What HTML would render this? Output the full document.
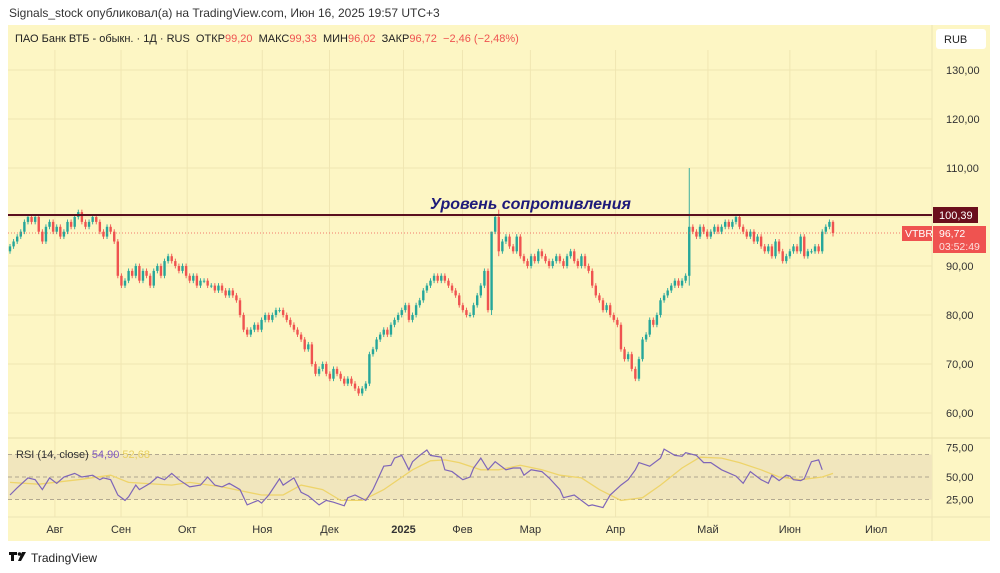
<!DOCTYPE html>
<html><head><meta charset="utf-8">
<style>
html,body{margin:0;padding:0;background:#fff;width:1000px;height:573px;overflow:hidden;font-family:"Liberation Sans","Noto Sans CJK JP",sans-serif}
svg{display:block}
</style></head>
<body>
<svg id="chart" width="1000" height="573" xmlns="http://www.w3.org/2000/svg" font-family="Liberation Sans, DejaVu Sans, sans-serif">
  <text x="9" y="17" font-size="12" fill="#333">Signals_stock опубликовал(а) на TradingView.com, Июн 16, 2025 19:57 UTC+3</text>
  <rect x="8" y="25" width="982" height="516" fill="#fdf6c4"/>
  <line x1="932" y1="25" x2="932" y2="541" stroke="#ece4b4"/>
  <g id="grid"></g>
  <g id="rsiPane"></g>
  <g id="candles"></g>
  <line x1="8" y1="215" x2="932" y2="215" stroke="#5a0f1e" stroke-width="2"/>
  <text x="430" y="209" font-size="16" font-style="italic" font-weight="bold" fill="#1e1a7a">Уровень сопротивления</text>
  <line x1="8" y1="233" x2="932" y2="233" stroke="#ef5350" stroke-width="0.8" stroke-dasharray="1,2"/>
  <g id="axes"></g>
  <text x="15" y="42" font-size="11" fill="#222">ПАО Банк ВТБ - обыкн. · 1Д · RUS&#160; ОТКР<tspan fill="#ef5350">99,20</tspan>&#160; МАКС<tspan fill="#ef5350">99,33</tspan>&#160; МИН<tspan fill="#ef5350">96,02</tspan>&#160; ЗАКР<tspan fill="#ef5350">96,72&#160; −2,46 (−2,48%)</tspan></text>
  <rect x="936" y="29" width="50" height="20" rx="3" fill="#fff"/>
  <text x="944" y="43" font-size="11" fill="#222">RUB</text>
  <rect x="933" y="207" width="45" height="16" fill="#6b0f1c"/>
  <text x="939" y="219" font-size="11" fill="#fff">100,39</text>
  <rect x="902" y="226" width="30" height="15" fill="#ef5350"/>
  <text x="905" y="237" font-size="10.5" fill="#fff">VTBR</text>
  <rect x="933" y="226" width="53" height="27" fill="#ef5350"/>
  <text x="939" y="237" font-size="10.5" fill="#fff">96,72</text>
  <text x="939" y="250" font-size="10.5" fill="#fde0de">03:52:49</text>
  <text x="16" y="458" font-size="11" fill="#333">RSI (14, close) <tspan fill="#7e57c2">54,90</tspan> <tspan fill="#e8cf60">52,68</tspan></text>
  <g>
    <rect x="9" y="552" width="8" height="3" fill="#111"/><rect x="11" y="552" width="3" height="9" fill="#111"/><circle cx="19.5" cy="554" r="1.8" fill="#111"/><polygon points="22,552 26,552 21,561 18,561" fill="#111"/>
    <text x="31" y="562" font-size="12" fill="#222">TradingView</text>
  </g>
</svg>
<script>
const closes=[94,95,96,97,99,100, 99,100,97,95, 98,99,97,98,96,97,99,98,100,101,99,98,99,100,99, 97,96,98,97,95, 88,86,
87,89,88,90,87,89,88,86,89,90,88,91,92, 91,90,89,90,88,87,88,86,87, 87,86,86,85,86,85,84,85,84,83, 80,77,76,
77,78,77,79,80,79,80,81,81, 80,79,78,77,76,75,73,74, 70,68,69,70,68,67,69, 68,67,66,67,66,65,64,65, 66,72,73,
75,76,77,76,78,79,80, 81,82,79,80,82,83, 85,86,87,88,87,88, 87,86,85,84,82,81,80,80, 82,84,86,89,81,97,
100,93,95,96,94,93,96, 92,91,90,92,91,93,92,91,90,91,92,91,90,92,93,91,90,92,90,89,
86,84,83,81,82,80,79,78, 73,71,72,69,67, 71,75,76,79,78,80,83,84, 85,86,87,86,87,88,
98,97,96,98,97,96,97,98,97,98,99,98,99,100, 98,97,96,97,95,96,94, 93,94,92,95,93,91,92,
93,94,93,96,92,93,93,94,93, 97,98,99,96.72];
const firstOpen=93;
const spikeIdx=[134,136,189,229];
const spikeHigh=[90,101.5,110,99.33];
const spikeLow=[80,92,86,96.02];
const priceTicks=[60,70,80,90,110,120,130];
const monthLabels=["Авг","Сен","Окт","Ноя","Дек","2025","Фев","Мар","Апр","Май","Июн","Июл"];
const monthIdx=[12.5,30.9,49.3,70.2,88.9,109.5,125.9,144.8,168.5,194.2,217,241];
const rsiTicks=[25,50,75];
const rsiIdx=[0,2,5,7,9,11,13,15,18,20,23,25,26,28,30,32,33,35,36,39,41,43,45,47,50,53,55,57,59,61,64,66,69,70,72,75,76,79,81,83,86,88,90,93,94,96,99,101,104,106,107,109,111,112,114,116,117,120,121,123,125,126,128,129,131,133,135,138,140,142,143,145,148,150,153,154,157,161,162,165,167,170,172,174,175,178,181,182,185,187,188,191,193,195,198,202,204,206,209,211,212,214,216,217,218,220,221,223,225,226,227,229];
const rsiVals=[30,38,49,47,36,49,43,50,54,50,52,47,49,47,30,24,28,41,36,43,50,47,54,47,39,41,50,41,39,43,36,19,24,21,30,48,41,49,33,29,19,24,22,18,27,30,24,36,62,63,71,74,58,67,74,80,74,72,58,56,50,47,50,60,71,58,67,58,60,60,52,58,56,49,36,27,30,18,19,16,30,41,47,58,66,62,71,81,74,73,77,74,66,66,58,51,43,56,47,43,52,46,52,51,47,46,48,67,69,58];
const maIdx=[0,8,19,28,33,45,50,59,70,76,81,87,92,98,104,112,117,121,125,131,136,142,148,153,159,164,170,176,181,187,192,198,203,209,214,220,226,229];
const maVals=[44,42,47,52,44,41,44,39,30,30,41,36,24,24,36,58,68,69,66,58,58,63,58,52,49,36,24,27,41,60,72,71,66,58,50,47,50,54];

const N=closes.length;
const X=i=>10+i*(823/(N-1));
const Y=p=>266-(p-90)*4.9;
const RY=r=>477-(r-50)*0.9;
const NS="http://www.w3.org/2000/svg";
function mk(tag,at,parent){const e=document.createElementNS(NS,tag);for(const k in at)e.setAttribute(k,at[k]);parent.appendChild(e);return e;}
const grid=document.getElementById('grid'),cg=document.getElementById('candles'),rp=document.getElementById('rsiPane'),ax=document.getElementById('axes');

priceTicks.concat([100]).forEach(t=>{const l=mk('line',{x1:8,x2:932,y1:Y(t),y2:Y(t),stroke:'#f0e6b2','stroke-width':1},grid);

});
monthIdx.forEach(m=>{const l=mk('line',{x1:X(m),x2:X(m),y1:50,y2:517,stroke:'#f0e6b2','stroke-width':1},grid);

});
mk('line',{x1:8,x2:990,y1:438,y2:438,stroke:'#e8dfaa'},grid);
mk('line',{x1:8,x2:990,y1:517,y2:517,stroke:'#ece4b4'},grid);

const band=mk('rect',{x:8,y:RY(75),width:924,height:RY(25)-RY(75),fill:'#f1e6bd'},rp);


rsiTicks.forEach(t=>{const l=mk('line',{x1:8,x2:932,y1:RY(t),y2:RY(t),stroke:'#9a9180','stroke-dasharray':'4,3','stroke-width':0.8},rp);


const tx=mk('text',{x:946,y:RY(t)+(t==75?-3:4),'font-size':11,fill:'#333'},ax);tx.textContent=t+',00';

});
const ma=mk('polyline',{points:maIdx.map((i,k)=>X(i)+','+RY(maVals[k])).join(' '),fill:'none',stroke:'#eed46a','stroke-width':1.3},rp);


const rl=mk('polyline',{points:rsiIdx.map((i,k)=>X(i)+','+RY(rsiVals[k])).join(' '),fill:'none',stroke:'#7e65b8','stroke-width':1.2},rp);



for(let i=0;i<N;i++){
  const o=i?closes[i-1]:firstOpen,c=closes[i];
  let hi=Math.max(o,c)+0.5,lo=Math.min(o,c)-0.5;
  const s=spikeIdx.indexOf(i);if(s>=0){hi=Math.max(spikeHigh[s],Math.max(o,c));lo=Math.min(spikeLow[s],Math.min(o,c));}
  const col=c>=o?'#26a69a':'#ef5350',x=X(i);
  const g=mk('g',{},cg);
  
  
  mk('line',{x1:x,x2:x,y1:Y(hi),y2:Y(lo),stroke:col,'stroke-width':0.9},g);
  const t=Math.min(Y(o),Y(c)),h=Math.max(1,Math.abs(Y(o)-Y(c)));
  mk('rect',{x:x-1.2,y:t,width:2.4,height:h,fill:col},g);
}

priceTicks.forEach(t=>{const tx=mk('text',{x:946,y:Y(t)+4,'font-size':11,fill:'#333'},ax);tx.textContent=t+',00';

});
monthLabels.forEach((m,k)=>{const tx=mk('text',{x:X(monthIdx[k]),y:533,'font-size':11,fill:'#333','text-anchor':'middle','font-weight':m=='2025'?'bold':'normal'},ax);tx.textContent=m;

});
</script>
</body></html>
